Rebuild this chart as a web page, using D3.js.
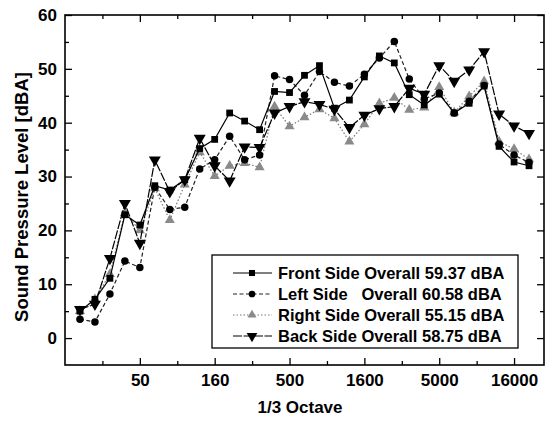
<!DOCTYPE html>
<html>
<head>
<meta charset="utf-8">
<script src="https://cdn.jsdelivr.net/npm/d3@7"></script>
<style>
  body { margin: 0; background: #fff; }
  text { font-family: "Liberation Sans", Arial, sans-serif; font-weight: bold; fill: #000; }
</style>
</head>
<body>
<div id="chart"></div>
<script>
// 1/3 octave band centre frequencies
const bands = ["20","25","31.5","40","50","63","80","100","125","160","200","250","315","400","500","630",
               "800","1000","1250","1600","2000","2500","3150","4000","5000","6300","8000","10000","12500","16000","20000"];

// Levels in dBA
const front = [5.0, 7.2, 11.1, 22.9, 21.0, 28.3, 27.5, 29.4, 35.2, 36.9, 41.8, 40.3, 38.7, 45.8, 45.6, 48.8,
               50.6, 42.7, 44.2, 48.5, 52.4, 51.1, 45.2, 43.3, 45.3, 41.8, 43.6, 46.8, 35.6, 32.7, 32.0];
const left  = [3.5, 3.0, 8.2, 14.3, 13.1, 28.0, 23.9, 24.3, 31.4, 33.1, 37.5, 33.1, 34.0, 48.7, 48.0, 45.1,
               49.5, 47.5, 46.8, 49.0, 52.0, 55.1, 48.1, 44.4, 45.5, 41.8, 44.0, 46.9, 36.0, 34.0, 32.6];
const right = [5.0, 7.2, 11.9, 23.2, 20.0, 27.8, 21.9, 28.5, 34.5, 30.1, 32.0, 32.5, 31.7, 43.0, 39.3, 41.0,
               42.5, 40.8, 36.5, 39.7, 43.6, 44.6, 42.4, 42.8, 46.6, 41.9, 44.9, 47.7, 36.5, 35.1, 33.2];
const back  = [5.3, 6.3, 14.8, 25.0, 17.6, 33.1, 27.2, 29.4, 37.1, 32.0, 29.2, 35.5, 35.4, 41.8, 43.0, 43.9,
               43.4, 42.5, 39.1, 41.4, 42.6, 43.0, 46.4, 45.3, 50.6, 47.7, 49.8, 53.2, 41.6, 39.4, 38.0];

const seriesNames = ["Front Side Overall 59.37 dBA", "Left Side   Overall 60.58 dBA",
                     "Right Side Overall 55.15 dBA", "Back Side Overall 58.75 dBA"];

const xTickLabels = ["50", "160", "500", "1600", "5000", "16000"];
const yTicks = [0, 10, 20, 30, 40, 50, 60];

const W = 547, H = 423;
const margin = { top: 15, right: 3, bottom: 58, left: 65 };
const width = W - margin.left - margin.right,
      height = H - margin.top - margin.bottom;

const svg = d3.select("#chart").append("svg")
    .attr("width", W).attr("height", H);
const g = svg.append("g").attr("transform", `translate(${margin.left},${margin.top})`);

// x is the band index, so the nominal bands are evenly spaced
const x = d3.scaleLinear().domain([-1, bands.length]).range([0, width]);
const y = d3.scaleLinear().domain([-5, 60]).range([height, 0]);

const majorX = xTickLabels.map(l => bands.indexOf(l));
const minorX = majorX.map(i => i - 2.5);
const minorY = yTicks.slice(0, -1).map(v => v + 5);

function styleAxis(sel) {
  sel.select(".domain").remove();
  sel.selectAll("line").attr("stroke", "#000").attr("stroke-width", 1.3);
  sel.selectAll("text").style("font-size", "17px").style("font-family", "Liberation Sans, Arial, sans-serif")
     .style("font-weight", "bold").attr("fill", "#000");
}

// bottom / left labelled axes, ticks pointing inward
g.append("g").attr("transform", `translate(0,${height})`)
  .call(d3.axisBottom(x).tickValues(majorX).tickSize(-7).tickPadding(9).tickFormat(i => bands[i]))
  .call(styleAxis);
g.append("g").attr("transform", `translate(0,${height})`)
  .call(d3.axisBottom(x).tickValues(minorX).tickSize(-4).tickFormat(""))
  .call(styleAxis);
g.append("g")
  .call(d3.axisLeft(y).tickValues(yTicks).tickSize(-7).tickPadding(8))
  .call(styleAxis);
g.append("g")
  .call(d3.axisLeft(y).tickValues(minorY).tickSize(-4).tickFormat(""))
  .call(styleAxis);

// mirrored ticks on top and right
g.append("g").call(d3.axisTop(x).tickValues(majorX).tickSize(-7).tickFormat("")).call(styleAxis);
g.append("g").call(d3.axisTop(x).tickValues(minorX).tickSize(-4).tickFormat("")).call(styleAxis);
g.append("g").attr("transform", `translate(${width},0)`)
  .call(d3.axisRight(y).tickValues(yTicks).tickSize(-7).tickFormat("")).call(styleAxis);
g.append("g").attr("transform", `translate(${width},0)`)
  .call(d3.axisRight(y).tickValues(minorY).tickSize(-4).tickFormat("")).call(styleAxis);

// frame
g.append("rect").attr("width", width).attr("height", height)
  .attr("fill", "none").attr("stroke", "#000").attr("stroke-width", 1.6);

// series
const series = [
  { values: right, color: "#777", dash: "1.5,2",   symbol: d3.symbolTriangle, rot: 0,   size: 44, fill: "#8a8a8a" },
  { values: left,  color: "#222", dash: "4,2.5",   symbol: d3.symbolCircle,   rot: 0,   size: 44, fill: "#000" },
  { values: front, color: "#000", dash: null,      symbol: d3.symbolSquare,   rot: 0,   size: 46, fill: "#000" },
  { values: back,  color: "#000", dash: "9,1.5",   symbol: d3.symbolTriangle, rot: 180, size: 62, fill: "#000" }
];

const line = d3.line().x((d, i) => x(i)).y(d => y(d));

series.forEach(s => {
  g.append("path").datum(s.values)
    .attr("d", line).attr("fill", "none")
    .attr("stroke", s.color).attr("stroke-width", 1.2)
    .attr("stroke-dasharray", s.dash);
  g.selectAll(null).data(s.values).join("path")
    .attr("d", d3.symbol(s.symbol, s.size))
    .attr("transform", (d, i) => `translate(${x(i)},${y(d)}) rotate(${s.rot})`)
    .attr("fill", s.fill);
});

// legend
const legendOrder = [series[2], series[1], series[0], series[3]];
const lg = svg.append("g").attr("transform", "translate(212,255)");
lg.append("rect").attr("width", 306).attr("height", 93)
  .attr("fill", "#fff").attr("stroke", "#000").attr("stroke-width", 1.3);
legendOrder.forEach((s, k) => {
  const yy = 18 + k * 21;
  lg.append("line").attr("x1", 21).attr("x2", 60).attr("y1", yy).attr("y2", yy)
    .attr("stroke", s.color).attr("stroke-width", 1.2).attr("stroke-dasharray", s.dash);
  lg.append("path").attr("d", d3.symbol(s.symbol, s.size * 0.8)())
    .attr("transform", `translate(40,${yy}) rotate(${s.rot})`).attr("fill", s.fill);
  lg.append("text").attr("x", 66).attr("y", yy).attr("dy", "0.36em")
    .style("font-size", "16.5px").style("white-space", "pre")
    .text(seriesNames[k]);
});

// axis titles
svg.append("text").attr("x", 300).attr("y", 413).attr("text-anchor", "middle")
  .style("font-size", "17px").text("1/3 Octave");
svg.append("text").attr("transform", "translate(28,197) rotate(-90)").attr("text-anchor", "middle")
  .style("font-size", "18.5px").text("Sound Pressure Level [dBA]");
</script>
</body>
</html>
